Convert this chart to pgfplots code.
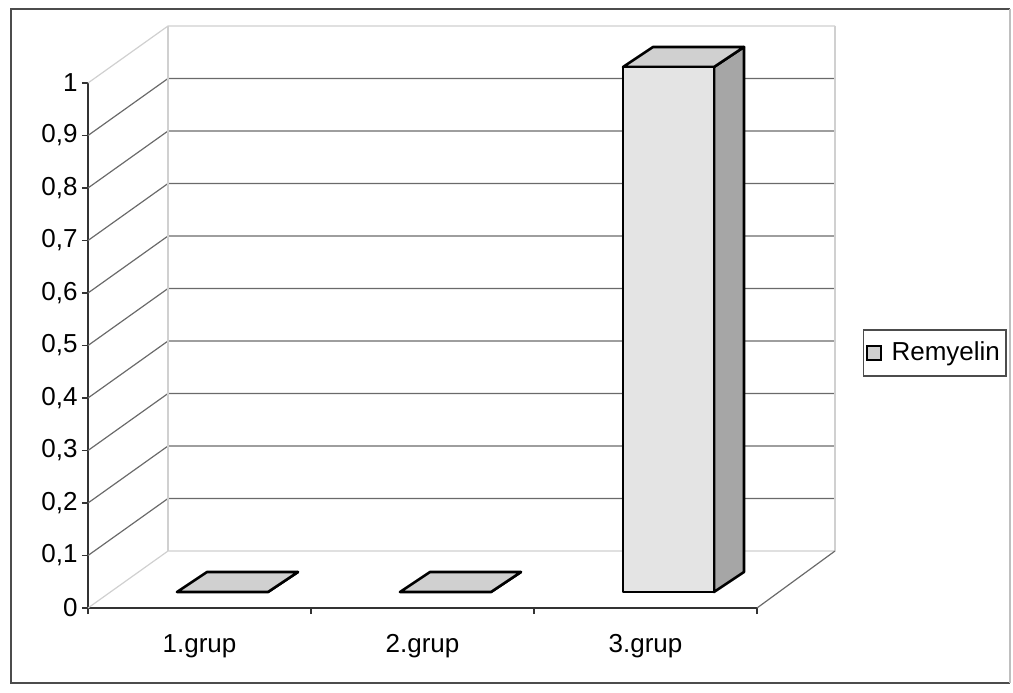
\documentclass[border=0pt]{standalone}
\usepackage{pgfplots}
\pgfplotsset{compat=1.18}
\usepackage{pgfplotstable}
\usepackage{fontspec}
\setmainfont{Liberation Sans}

\definecolor{frontface}{HTML}{E4E4E4}
\definecolor{topface}{HTML}{D0D0D0}
\definecolor{sideface}{HTML}{A6A6A6}
\definecolor{gridgray}{HTML}{6A6A6A}
\definecolor{faintgray}{HTML}{D0D0D0}

% a plot mark that draws nothing; the boxes come from the marker code
\pgfdeclareplotmark{nothing}{}

\pgfplotstableread{
pos value
0.5 0
1.5 0
2.5 1
}\remyelin

\begin{document}
\begin{tikzpicture}
\path[use as bounding box] (-44pt,-42pt) rectangle (462.5pt,304pt);
\begin{axis}[
  at={(0pt,0pt)}, anchor=origin,
  x={(111.5pt,0pt)}, y={(0pt,262.5pt)},
  xmin=0, xmax=3, ymin=0, ymax=1,
  clip=false,
  axis x line=bottom, axis y line=left,
  axis line style={-, line width=0.7pt, color=black!80},
  tick style={line width=0.6pt, color=black!80},
  tick align=outside,
  major tick length=3pt,
  xtick={0,1,2,3},
  x tick label as interval,
  xticklabels={1.grup,2.grup,3.grup},
  ytick={0,0.1,0.2,0.3,0.4,0.5,0.6,0.7,0.8,0.9,1},
  yticklabel style={/pgf/number format/.cd, use comma, fixed, precision=1},
  /pgf/number format/assume math mode=true,
  tick label style={font=\fontsize{13}{15}\selectfont, inner sep=2pt},
  xticklabel style={yshift=-8pt},
  legend style={at={(1.1584,0.4857)}, anchor=west, draw=black!70,
    line width=0.6pt, font=\fontsize{13}{15}\selectfont,
    inner xsep=1pt, inner ysep=4pt,
    /tikz/every odd column/.append style={column sep=3pt}},
]
% back wall gridlines and the depth lines from the front ticks
\pgfplotsinvokeforeach{0.1,0.2,0.3,0.4,0.5,0.6,0.7,0.8,0.9}{
  \draw[gridgray, line width=0.6pt] (axis cs:0,#1) -- ++(40pt,28.5pt) -- ++(333.5pt,0pt);
}
\draw[faintgray, line width=0.6pt] (axis cs:0,0) -- ++(40pt,28.5pt) -- ++(333.5pt,0pt);
\draw[faintgray, line width=0.6pt] (axis cs:0,1) -- ++(40pt,28.5pt) -- ++(333.5pt,0pt);
\draw[faintgray, line width=0.6pt] (axis cs:0,0) ++(40pt,28.5pt) -- ++(0pt,262.5pt);
\draw[faintgray, line width=0.6pt] (axis cs:3,0) ++(39pt,28.5pt) -- ++(0pt,262.5pt);
% right edge of the floor
\draw[gridgray, line width=0.6pt] (axis cs:3,0) -- ++(39pt,28.5pt);

% 3-D columns
\addplot[scatter, only marks, mark=nothing,
  visualization depends on={\thisrow{value}\as\val},
  scatter/@pre marker code/.code={%
    \pgfmathsetlengthmacro{\bb}{8pt-\val*262.5pt}%
    \pgfmathsetlengthmacro{\bt}{18pt-\val*262.5pt}%
    \filldraw[fill=sideface, draw=black, line width=1.3pt, line join=round]
      (34.25pt,\bb) -- (34.25pt,8pt) -- (49.25pt,18pt) -- (49.25pt,\bt) -- cycle;
    \filldraw[fill=topface, draw=black, line width=1.3pt, line join=round]
      (-11.25pt,8pt) -- (34.25pt,8pt) -- (49.25pt,18pt) -- (3.75pt,18pt) -- cycle;
    \filldraw[fill=frontface, draw=black, line width=1.3pt, line join=round]
      (-11.25pt,\bb) rectangle (34.25pt,8pt);
  },
  scatter/@post marker code/.code={},
  legend image code/.code={\draw[black, line width=1pt, fill=topface]
    (0pt,-3.5pt) rectangle (7pt,3.5pt);},
] table[x=pos, y=value] {\remyelin};
\addlegendentry{Remyelin}
\end{axis}
% chart area border
\draw[black!70, line width=0.6pt] (461pt,299.5pt) -- (-38.5pt,299.5pt)
  -- (-38.5pt,-37.5pt) -- (461pt,-37.5pt);
\draw[black!25, line width=0.6pt] (461pt,-37.5pt) -- (461pt,299.5pt);
\end{tikzpicture}
\end{document}
